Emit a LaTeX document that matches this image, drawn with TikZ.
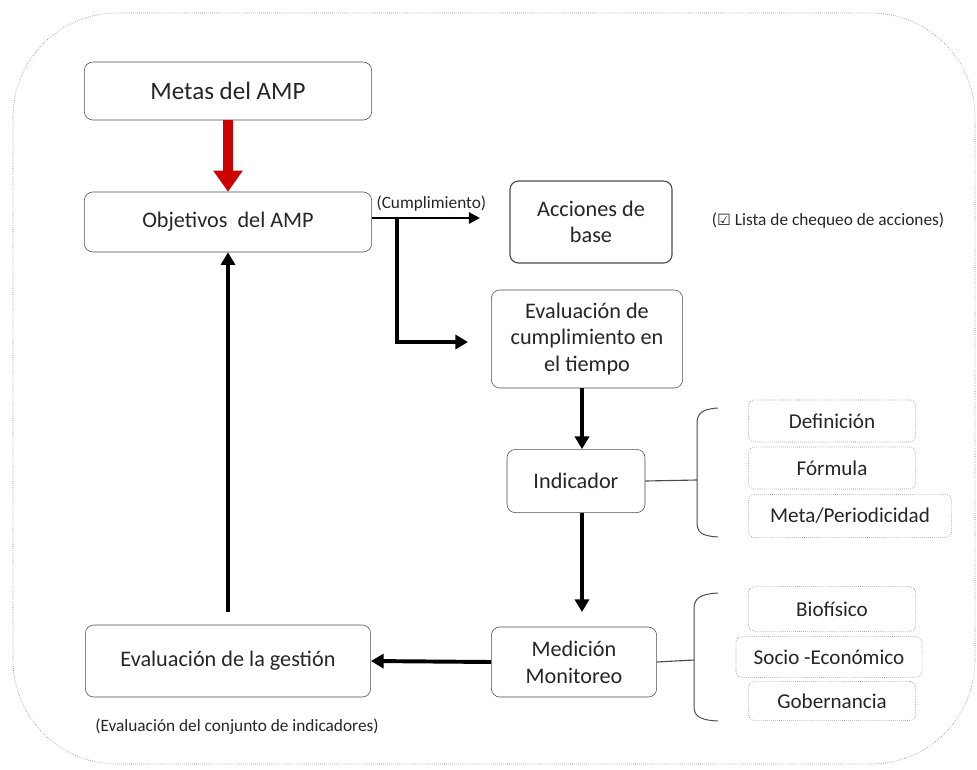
\documentclass[tikz,border=0pt]{standalone}
\usepackage{fontspec}
\setmainfont{Carlito}
\newfontfamily\symfont{DejaVu Sans}
\usetikzlibrary{arrows.meta}
\tikzset{
  box/.style={draw=black!70, rounded corners=6pt, fill=white, text=black!85,
    align=center, font=\fontsize{15.8}{19}\selectfont, inner sep=2pt},
  dotbox/.style={draw=black!55, densely dotted, rounded corners=4pt, text=black!85,
    align=center, font=\fontsize{15}{17}\selectfont, inner sep=2pt},
  flow/.style={line width=2.8pt, -{Triangle[width=10pt,length=9pt]}},
  brace/.style={draw=black!70, line width=0.7pt},
  note/.style={text=black!85, font=\fontsize{12.3}{14}\selectfont, inner sep=1pt}
}
\begin{document}
\begin{tikzpicture}[x=0.025cm, y=-0.025cm]
  \useasboundingbox (0,0) rectangle (977,769);
  % outer frame
  \draw[black!55, densely dotted, rounded corners=2.6cm] (13,13) rectangle (975,764);

  % main column
  \node[box, minimum width=7.18cm, minimum height=1.45cm, font=\fontsize{17.8}{21}\selectfont] (metas) at (228,91) {Metas del AMP};
  \node[box, minimum width=7.18cm, minimum height=1.5cm] (objetivos) at (228,222) {Objetivos\ \ del AMP};
  \node[box, minimum width=7.13cm, minimum height=1.8cm] (gestion) at (228,661) {Evaluación de la gestión};
  \node[note] (conjunto) at (237,727) {(Evaluación del conjunto de indicadores)};

  % right column
  \node[box, minimum width=4.05cm, minimum height=2.05cm, line width=0.8pt] (acciones) at (591,222) {Acciones de\\base};
  \node[note] (lista) at (828,221) {({\symfont\fontsize{11}{12}\selectfont ☑} Lista de chequeo de acciones)};
  \node[box, minimum width=4.78cm, minimum height=2.45cm] (evalcump) at (587,339) {Evaluación de\\cumplimiento en\\el tiempo};
  \node[box, minimum width=3.45cm, minimum height=1.58cm] (indicador) at (576,481) {Indicador};
  \node[box, minimum width=4.13cm, minimum height=1.75cm] (medicion) at (574,662) {Medición\\Monitoreo};

  % detail boxes
  \node[dotbox, minimum width=4.18cm, minimum height=1.05cm] (definicion) at (832,421) {Definición};
  \node[dotbox, minimum width=4.18cm, minimum height=1.05cm] (formula) at (832,468) {Fórmula};
  \node[dotbox, minimum width=5.08cm, minimum height=1.08cm] (metaper) at (850,516) {Meta/Periodicidad};
  \node[dotbox, minimum width=4.18cm, minimum height=1.12cm] (biofisico) at (832,609) {Biofísico};
  \node[dotbox, minimum width=4.65cm, minimum height=1.02cm] (socio) at (829,657) {Socio -Económico};
  \node[dotbox, minimum width=4.18cm, minimum height=0.98cm] (gobernanza) at (832,701) {Gobernancia};

  % braces
  \draw[brace] (718,408) .. controls (701,409) and (697,414) .. (697,424) -- (697,522) .. controls (697,532) and (701,536) .. (718,537);
  \draw[brace] (718,593) .. controls (699,594) and (694,599) .. (694,609) -- (694,706) .. controls (694,716) and (699,720) .. (718,721);
  \coordinate (llave1) at (697,480);
  \coordinate (llave2) at (694,660);
  \draw[black!70, line width=0.8pt] (indicador.east) -- (llave1);
  \draw[black!70, line width=0.8pt] (medicion.east) -- (llave2);

  % arrows
  \draw[red!80!black, line width=7pt, -{Triangle[width=20pt,length=15pt]}] (metas.south) -- (objetivos.north);
  \coordinate (rama) at (397,218);
  \coordinate (codo) at (397,342);
  \coordinate (puntaA) at (480,218);
  \coordinate (puntaB) at (468,342);
  \draw[line width=1.6pt, -{Triangle[width=8pt,length=8pt]}] (objetivos.east |- rama) -- (puntaA)
    node[note, above, pos=0.55, yshift=3pt] (cumpl) {(Cumplimiento)};
  \draw[flow] (rama) -- (codo) -- (puntaB);
  \coordinate (puntaC) at (582,612);
  \draw[flow] (evalcump.south -| puntaC) -- (indicador.north -| puntaC);
  \draw[flow] (indicador.south -| puntaC) -- (puntaC);
  \draw[flow] (medicion.west) -- (gestion.east);
  \coordinate (salida) at (228,612);
  \draw[flow, line width=2.2pt] (salida) -- (objetivos.south);
\end{tikzpicture}
\end{document}
